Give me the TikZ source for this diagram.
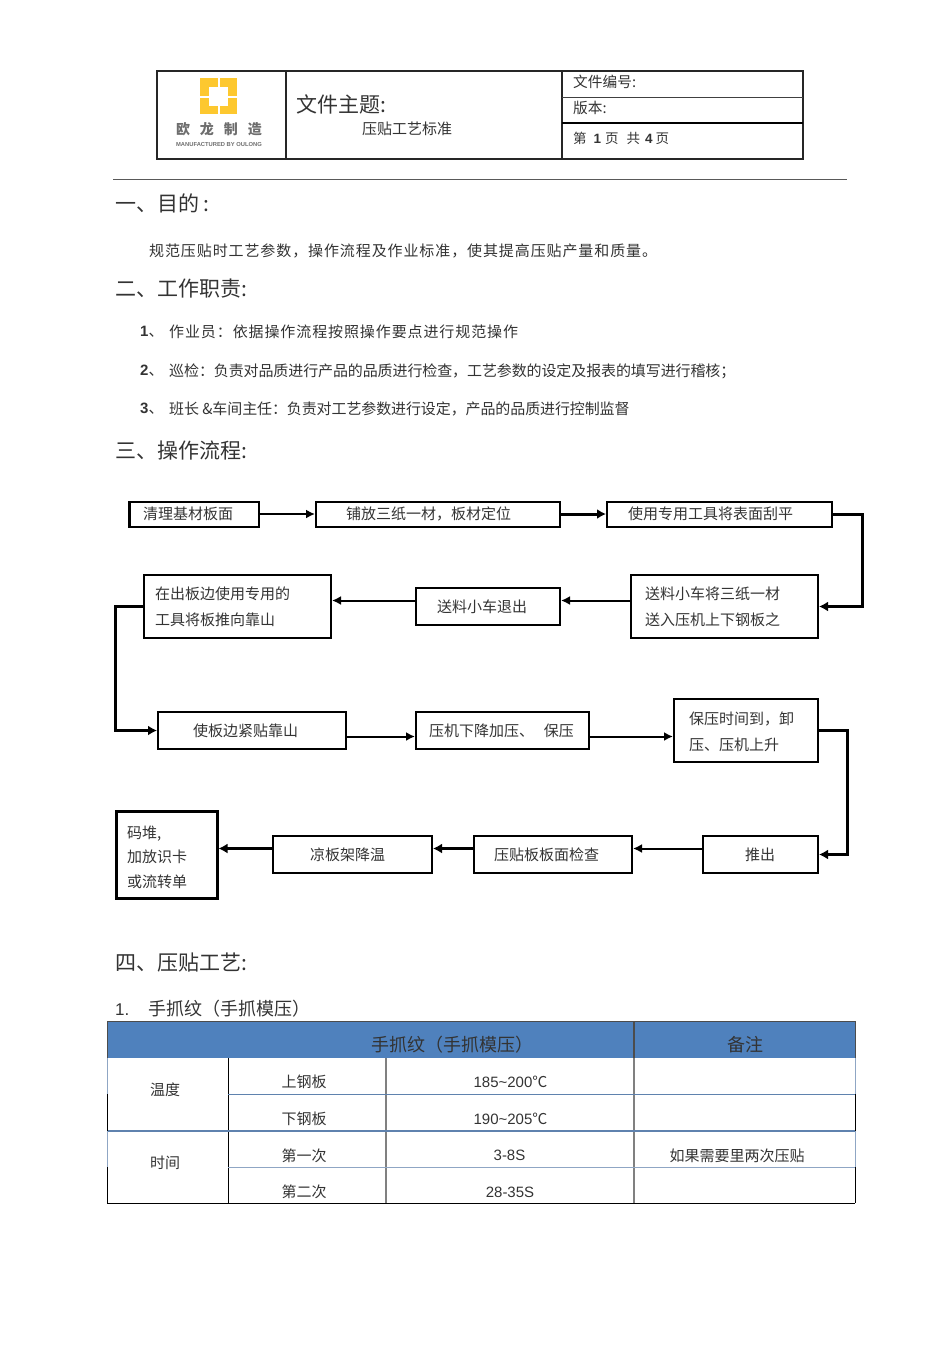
\documentclass[tikz,border=0pt]{standalone}
\usepackage{fontspec}
\setmainfont{Noto Sans CJK SC}
\newfontfamily\latinfont{Liberation Sans}
\usepackage{xcolor}
\usetikzlibrary{arrows.meta,positioning}
\definecolor{logoyellow}{HTML}{FDC82F}
\definecolor{logogray}{HTML}{6E6E6E}
\definecolor{headblue}{HTML}{4F81BD}
\definecolor{lineblue}{HTML}{5F82AE}
\definecolor{paleblue}{HTML}{8FA6C4}
\newcommand{\fs}[1]{\fontsize{#1}{#1}\selectfont}
\newcommand{\wide}{\addfontfeature{LetterSpace=6}}

\begin{document}
\begin{tikzpicture}[
  x=1pt, y=-1pt,
  font=\fontsize{15}{26}\selectfont,
  text=black!80,
  box/.style={draw=black, line width=2pt, align=left, inner ysep=0pt, text=black!80},
  row1/.style={minimum height=25pt},
  row2/.style={minimum height=37pt},
  row3/.style={minimum height=63pt},
  txt/.style={anchor=west, inner sep=0pt},
  mid/.style={inner sep=0pt},
  head/.style={txt, font=\fontsize{21}{24}\selectfont},
  flow/.style={draw=black, -{Latex[length=9pt,width=9pt]}, line width=2pt},
  heavy/.style={draw=black, -{Latex[length=9pt,width=10pt]}, line width=3pt}
]
\useasboundingbox (0,0) rectangle (950,1345);

% ---- Header block ----
\draw[line width=1.6pt, black!85] (157,71) rectangle (803,159);
\draw[line width=1.6pt, black!85] (286,71) -- (286,159);
\draw[line width=1.4pt, black!85] (562,71) -- (562,159);
\draw[line width=1pt, black!75] (562,97) -- (803,97);
\draw[line width=1.6pt] (562,123) -- (803,123);
\fill[logoyellow] (200,78) rectangle (237,114);
\fill[white] (209,87) rectangle (228,106);
\fill[white] (217.5,78) rectangle (219.5,114);
\fill[white] (200,95.5) rectangle (237,97.5);
\node[mid, text=logogray] (logocn) at (219,129.5) {\fs{14}\bfseries 欧\hspace{10pt}龙\hspace{10pt}制\hspace{10pt}造};
\node[mid, text=logogray] (logoen) at (219,144) {\latinfont\fs{5.8}\bfseries MANUFACTURED BY OULONG};
\node[txt] (subject) at (296,104) {\fs{21}文件主题:};
\node[txt] (subjectname) at (362,129) {压贴工艺标准};
\node[txt] (fileno) at (573,82) {\fs{14.7}文件编号:};
\node[txt] (version) at (573,108) {\fs{14.7}版本:};
\node[txt] (pages) at (573,138.5) {\fs{13.5}第\hspace{7pt}{\latinfont\bfseries 1}\hspace{4pt}页\hspace{8pt}共\hspace{5pt}{\latinfont\bfseries 4}\hspace{3pt}页};
\draw[line width=1pt, black!65] (113,179) -- (847,179);

% ---- Sections ----
\node[head] (goal) at (115,203.5) {一、目的 :};
\node[txt] (goaltext) at (149,250.5) {\wide 规范压贴时工艺参数，操作流程及作业标准，使其提高压贴产量和质量。};
\node[head] (duty) at (115,289) {二、工作职责:};
\node[txt] (duty1no) at (140,332) {{\latinfont\bfseries 1}、};
\node[txt] (duty1) at (169,332) {\wide 作业员：依据操作流程按照操作要点进行规范操作};
\node[txt] (duty2no) at (140,371) {{\latinfont\bfseries 2}、};
\node[txt] (duty2) at (169,371) {\addfontfeature{LetterSpace=-0.7}巡检：负责对品质进行产品的品质进行检查，工艺参数的设定及报表的填写进行稽核；};
\node[txt] (duty3no) at (140,409) {{\latinfont\bfseries 3}、};
\node[txt] (duty3) at (169,409) {\addfontfeature{LetterSpace=-0.7}班长 \&车间主任：负责对工艺参数进行设定，产品的品质进行控制监督};
\node[head] (proc) at (115,451) {三、操作流程:};
\node[head] (craft) at (115,963) {四、压贴工艺:};
\node[txt] (craft1) at (115,1008.5) {\fs{18}{\latinfont\fs{17}1.}\hspace{19pt}手抓纹（手抓模压）};

% ---- Flow boxes ----
\node[box, row1, inner xsep=13pt, text width=103pt] (clean) at (194.5,514) {清理基材板面};
\node[box, row1, inner xsep=30pt, text width=184pt] (lay) at (438,514) {铺放三纸一材，板材定位};
\node[box, row1, inner xsep=21pt, text width=183pt] (flat) at (719.5,514) {使用专用工具将表面刮平};
\node[box, row3, inner xsep=14pt, text width=159pt] (feed) at (724.5,606.5) {送料小车将三纸一材\\送入压机上下钢板之};
\node[box, row2, inner xsep=21pt, text width=102pt] (retreat) at (488,606.5) {送料小车退出};
\node[box, row3, inner xsep=11pt, text width=165pt] (push) at (237.5,606.5) {在出板边使用专用的\\工具将板推向靠山};
\node[box, row2, inner xsep=35pt, text width=118pt] (tight) at (252,730.5) {使板边紧贴靠山};
\node[box, row2, inner xsep=13pt, text width=147pt] (press) at (502.5,730.5) {\mbox{压机下降加压、\hspace{10pt}保压}};
\node[box, row3, inner xsep=15pt, text width=114pt] (lift) at (746,730.5) {\rule{0pt}{16pt}保压时间到，卸\\压、压机上升};
\node[box, row2, inner xsep=42pt, text width=31pt] (out) at (760.5,854.5) {推出};
\node[box, row2, inner xsep=20pt, text width=118pt] (check) at (553,854.5) {压贴板板面检查};
\node[box, row2, inner xsep=37pt, text width=85pt] (cool) at (352.5,854.5) {凉板架降温};
\node[box, line width=3pt, minimum height=87pt, inner xsep=11pt, text width=79pt, font=\fontsize{15}{24.5}\selectfont] (stack) at (166.5,854.5) {\rule{0pt}{18pt}码堆,\\加放识卡\\或流转单};
\draw[line width=3pt] (clean.south west) -- (clean.north west);

% edges
\draw[flow] (clean) -- (lay);
\draw[heavy] (lay) -- (flat);
\draw[heavy] (flat.east) -- ++(29,0) |- (feed.east);
\draw[flow] ([yshift=6pt]feed.west) -- ([yshift=6pt]retreat.east);
\draw[flow] ([yshift=6pt]retreat.west) -- ([yshift=6pt]push.east);
\draw[heavy] (push.west) -- ++(-28,0) |- (tight.west);
\draw[flow] ([yshift=-6pt]tight.east) -- ([yshift=-6pt]press.west);
\draw[flow] ([yshift=-6pt]press.east) -- ([yshift=-6pt]lift.west);
\draw[heavy] (lift.east) -- ++(28,0) |- (out.east);
\draw[flow] ([yshift=6pt]out.west) -- ([yshift=6pt]check.east);
\draw[heavy] ([yshift=6pt]check.west) -- ([yshift=6pt]cool.east);
\draw[heavy] ([yshift=6pt]cool.west) -- ([yshift=6pt]stack.east);

% ---- Table ----
\fill[headblue] (107,1021) rectangle (855,1058);
\draw[line width=.8pt, black!70] (107,1021) -- (855,1021);
\draw[line width=1.1pt, black!70] (634,1021) -- (634,1058);
\draw[line width=.8pt, black!70] (107,1021) -- (107,1058);
\draw[line width=.8pt, black!70] (855,1021) -- (855,1058);
\draw[line width=.8pt, black] (228,1058) -- (228,1203);
\draw[line width=1.2pt, black!50] (386,1058) -- (386,1203);
\draw[line width=1.2pt, black!50] (634,1058) -- (634,1203);
\draw[line width=1pt, lineblue] (228,1094.5) -- (855,1094.5);
\draw[line width=1.6pt, lineblue] (107,1131) -- (855,1131);
\draw[line width=1.2pt, paleblue] (228,1167.5) -- (855,1167.5);
\draw[line width=.8pt, black] (107,1203) -- (855,1203);
\draw[line width=.7pt, paleblue] (107,1058) -- (107,1094) (107,1131) -- (107,1167);
\draw[line width=.7pt, paleblue] (855,1058) -- (855,1094) (855,1131) -- (855,1167);
\draw[line width=.8pt, black] (107,1094) -- (107,1131) (107,1167) -- (107,1203);
\draw[line width=.8pt, black] (855,1094) -- (855,1131) (855,1167) -- (855,1203);
\node[mid] (headmain) at (452,1045) {\fs{18}手抓纹（手抓模压）};
\node[mid] (headnote) at (745,1045) {\fs{18}备注};
\node[mid] (temp) at (165,1089.5) {温度};
\node[mid] (time) at (165,1163) {时间};
\node[mid] (upper) at (304,1082) {上钢板};
\node[mid] (lower) at (304,1119) {下钢板};
\node[mid] (first) at (304,1155.5) {第一次};
\node[mid] (second) at (304,1192) {第二次};
\node[mid] (uppertemp) at (510.5,1082) {{\latinfont 185\textasciitilde200}℃};
\node[mid] (lowertemp) at (510.5,1119) {{\latinfont 190\textasciitilde205}℃};
\node[mid] (firsttime) at (509.5,1155.5) {\latinfont 3-8S};
\node[mid] (secondtime) at (510,1192) {\latinfont 28-35S};
\node[mid] (note) at (737,1155.5) {如果需要里两次压贴};
\end{tikzpicture}
\end{document}
